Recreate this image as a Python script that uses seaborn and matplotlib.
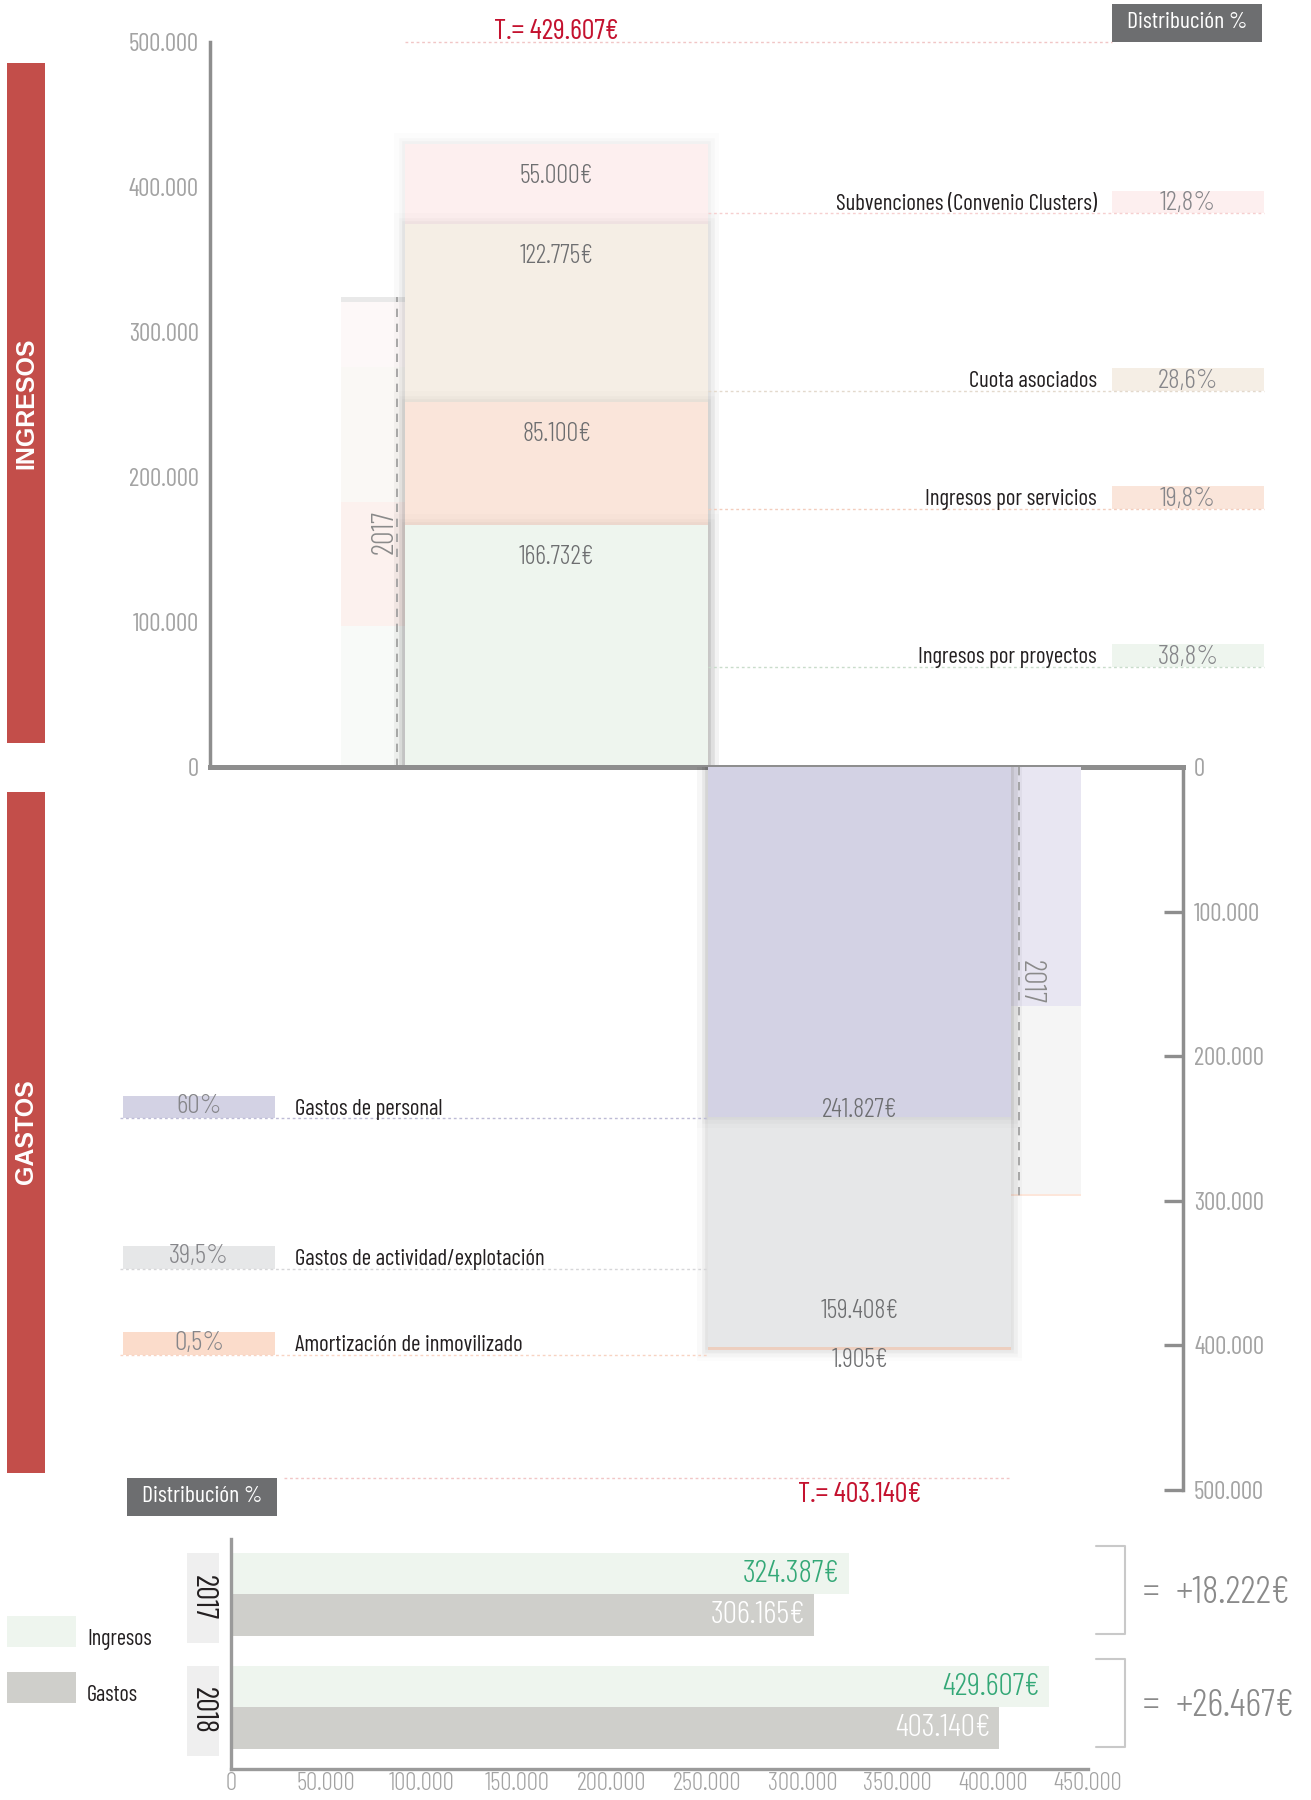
import numpy as np
import pandas as pd
import seaborn as sns
import matplotlib.pyplot as plt
import matplotlib.patheffects as pe
import matplotlib.transforms as mtransforms
from matplotlib.patches import Rectangle
from matplotlib.ticker import FuncFormatter

# ---- data ----
ing_labels = ['Ingresos por proyectos', 'Ingresos por servicios', 'Cuota asociados',
              'Subvenciones (Convenio Clusters)']
ing_2018 = [166732, 85100, 122775, 55000]
ing_2017 = [97000, 86000, 93000, 45000, 3387]
ing_pct = ['38,8%', '19,8%', '28,6%', '12,8%']

gas_labels = ['Gastos de personal', 'Gastos de actividad/explotación', 'Amortización de inmovilizado']
gas_2018 = [241827, 159408, 1905]
gas_2017 = [165600, 129800, 1500]
gas_pct = ['60%', '39,5%', '0,5%']

years = ['2017', '2018']
total_ingresos = [324387, 429607]
total_gastos = [306165, 403140]

# ---- styles / layout ----
ing_colors = ['#EEF5EE', '#FAE5DA', '#F5EEE5', '#FDEFEF']
ing_colors_17 = ['#F8FAF8', '#FCF1EE', '#FAF8F5', '#FDF8F8', '#E9E9E9']
ing_line_colors = ['#C9DCCB', '#F3CDBD', '#E3D9CC', '#F6CFCF']
gas_colors = ['#D3D2E4', '#E6E7E8', '#FBDCCB']
gas_colors_17 = ['#E8E6F2', '#F5F5F5', '#FDE6DA']
gas_line_colors = ['#BDBBD6', '#D6D6D8', '#F8D3C2']
ing_label_y = [69000, 178000, 259500, 382000]
gas_label_y = [243000, 347000, 406500]
gas_value_off = [5, 26, -7]

RED = '#C34E4A'
TOTAL_RED = '#C4122F'
GREY_TXT = '#6D6E70'
PCT_TXT = '#86868A'
AXIS = '#8E8E8E'
TICK_TXT = '#A3A3A3'
DARK = '#231F20'
LIGHT = 300

sns.set_style('white')
plt.rcParams['font.family'] = ['Barlow Condensed', 'DejaVu Sans']
BOLD = ['Liberation Sans', 'DejaVu Sans']

W, H = 1311, 1800
fig = plt.figure(figsize=(W / 100, H / 100), dpi=100)


def frac(x0, y0, x1, y1):
    return [x0 / W, 1 - y1 / H, (x1 - x0) / W, (y1 - y0) / H]


def fig_box(x0, y0, x1, y1, color):
    fig.add_artist(Rectangle((x0 / W, 1 - y1 / H), (x1 - x0) / W, (y1 - y0) / H,
                             transform=fig.transFigure, facecolor=color, edgecolor='none'))


def fig_text(x, y, s, **kw):
    fig.text(x / W, 1 - y / H, s, **kw)


def eur(v):
    return f'{v:,.0f}'.replace(',', '.') + '€'


fmt = FuncFormatter(lambda v, p: f'{v:,.0f}'.replace(',', '.'))

shadow = [pe.Stroke(linewidth=16, foreground='k', alpha=0.012),
          pe.Stroke(linewidth=9, foreground='k', alpha=0.018),
          pe.Stroke(linewidth=4, foreground='k', alpha=0.025),
          pe.Normal()]


def stack(ax, xc, width, values, colors, effects=None):
    # stacked column drawn as overlapping cumulative bars
    cum = np.cumsum(values)
    kw = {'path_effects': effects} if effects else {}
    for i in range(len(values) - 1, -1, -1):
        sns.barplot(x=[xc], y=[cum[i]], orient='x', native_scale=True, width=width,
                    color=colors[i], saturation=1, errorbar=None, linewidth=0, ax=ax, **kw)
    return cum


ax_top = fig.add_axes(frac(0, 42, W, 767))
ax_bot = fig.add_axes(frac(0, 767, W, 1490))

# ---- ingresos ----
cum17 = stack(ax_top, 492.5, 303, ing_2017, ing_colors_17)
ing_cum = stack(ax_top, 556.5, 303, ing_2018, ing_colors, shadow)
ax_top.vlines(397, 0, cum17[-1], colors='#9A9A9A', linestyles=(0, (5, 4)), lw=1.2)
ax_top.text(385, cum17[-1] * 0.5, '2017', rotation=90, ha='center', va='center',
            fontsize=22, color='#8A8A8A', fontweight=LIGHT)

for i, v in enumerate(ing_2018):
    ax_top.annotate(eur(v), xy=(556.5, ing_cum[i]), xytext=(0, -23), textcoords='offset points',
                    ha='center', va='center', fontsize=19, color=GREY_TXT, fontweight=LIGHT)

for i, y in enumerate(ing_label_y):
    ax_top.hlines(y, 708, 1264, colors=ing_line_colors[i], linestyles=(0, (2, 2)), lw=1)
    ax_top.add_patch(Rectangle((1112, y), 152, 15500, facecolor=ing_colors[i], edgecolor='none'))
    ax_top.text(1188, y + 7000, ing_pct[i], ha='center', va='center', fontsize=20,
                color=PCT_TXT, fontweight=LIGHT)
    ax_top.annotate(ing_labels[i], xy=(1097, y), xytext=(0, 2.5), textcoords='offset points',
                    ha='right', va='baseline', fontsize=16.5, color=DARK)

ax_top.hlines(500000, 405, 1112, colors='#F1C6C6', linestyles=(0, (2, 2)), lw=1, clip_on=False)
ax_top.annotate(f'T.= {eur(sum(ing_2018))}', xy=(556.5, 500000), xytext=(0, 2),
                textcoords='offset points', ha='center', va='baseline', fontsize=20.5,
                color=TOTAL_RED, annotation_clip=False)

# ---- gastos ----
gcum17 = stack(ax_bot, 929.5, 303, gas_2017, gas_colors_17)
gas_cum = stack(ax_bot, 859.5, 303, gas_2018, gas_colors, shadow)
ax_bot.vlines(1019, 0, gcum17[-1], colors='#9A9A9A', linestyles=(0, (5, 4)), lw=1.2)
ax_bot.text(1031, gcum17[-1] * 0.5, '2017', rotation=-90, ha='center', va='center',
            fontsize=22, color='#8A8A8A', fontweight=LIGHT)

for i, v in enumerate(gas_2018):
    ax_bot.annotate(eur(v), xy=(859.5, gas_cum[i]), xytext=(0, gas_value_off[i]),
                    textcoords='offset points', ha='center', va='center', fontsize=19,
                    color=GREY_TXT, fontweight=LIGHT)

for i, y in enumerate(gas_label_y):
    ax_bot.hlines(y, 120, 708, colors=gas_line_colors[i], linestyles=(0, (2, 2)), lw=1)
    ax_bot.add_patch(Rectangle((123, y - 15500), 152, 15500, facecolor=gas_colors[i], edgecolor='none'))
    ax_bot.text(199, y - 8500, gas_pct[i], ha='center', va='center', fontsize=20,
                color=PCT_TXT, fontweight=LIGHT)
    ax_bot.annotate(gas_labels[i], xy=(295, y), xytext=(0, 2.5), textcoords='offset points',
                    ha='left', va='baseline', fontsize=16.5, color=DARK)

ax_bot.hlines(491500, 284, 1011, colors='#F1C6C6', linestyles=(0, (2, 2)), lw=1, clip_on=False)
ax_bot.annotate(f'T.= {eur(sum(gas_2018))}', xy=(859.5, 491500), xytext=(0, -3),
                textcoords='offset points', ha='center', va='top', fontsize=20.5,
                color=TOTAL_RED, annotation_clip=False)

# ---- axes styling ----
for ax in (ax_top, ax_bot):
    ax.set_xlim(0, W)
    ax.patch.set_visible(False)
    ax.set_xticks([])
    ax.set_xlabel('')
    ax.set_ylabel('')
    ax.set_yticks(range(0, 500001, 100000))
    ax.yaxis.set_major_formatter(fmt)
    for s in ax.spines.values():
        s.set_visible(False)
        s.set_color(AXIS)
    ax.tick_params(axis='y', direction='in', length=14, width=2.4, color=AXIS,
                   labelcolor=TICK_TXT, labelsize=18, pad=8)
    for lab in ax.get_yticklabels():
        lab.set_fontweight(LIGHT)

ax_top.set_ylim(0, 500000)
ax_top.spines['left'].set_visible(True)
ax_top.spines['left'].set_position(('data', 210))
ax_top.spines['left'].set_bounds(0, 500000)
ax_top.spines['left'].set_linewidth(2.5)
ax_top.spines['bottom'].set_visible(True)
ax_top.spines['bottom'].set_bounds(210, 1183)
ax_top.spines['bottom'].set_linewidth(3.6)

ax_bot.set_ylim(500000, 0)
ax_bot.yaxis.tick_right()
ax_bot.spines['right'].set_visible(True)
ax_bot.spines['right'].set_position(('data', 1183))
ax_bot.spines['right'].set_bounds(0, 500000)
ax_bot.spines['right'].set_linewidth(2.5)

# ---- side bands and headers ----
fig_box(7, 63, 45, 743, RED)
fig_box(7, 792, 45, 1473, RED)
fig_text(26, 403, 'INGRESOS', rotation=90, ha='center', va='center', color='white',
         fontsize=18, fontweight='bold', family=BOLD)
fig_text(26, 1132, 'GASTOS', rotation=90, ha='center', va='center', color='white',
         fontsize=18, fontweight='bold', family=BOLD)

fig_box(1112, 4, 1262, 42, '#6D6E70')
fig_text(1187, 23, 'Distribución %', ha='center', va='center', color='white', fontsize=17)
fig_box(127, 1478, 277, 1516, '#6D6E70')
fig_text(202, 1497, 'Distribución %', ha='center', va='center', color='white', fontsize=17)

# ---- comparison bars ----
ax_bar = fig.add_axes(frac(231, 1539, 1088, 1769))
df = pd.DataFrame({'Año': years + years,
                   'Tipo': ['Ingresos'] * 2 + ['Gastos'] * 2,
                   'Valor': total_ingresos + total_gastos})
sns.barplot(data=df, x='Valor', y='Año', hue='Tipo', hue_order=['Ingresos', 'Gastos'],
            palette={'Ingresos': '#EEF5EE', 'Gastos': '#CFCFCB'}, orient='y', width=0.73,
            saturation=1, errorbar=None, legend=False, linewidth=0, ax=ax_bar)

trans = mtransforms.blended_transform_factory(ax_bar.transAxes, ax_bar.transData)
for i in range(len(years)):
    ax_bar.annotate(eur(total_ingresos[i]), xy=(total_ingresos[i], i - 0.1825), xytext=(-7, 0),
                    textcoords='offset points', ha='right', va='center', fontsize=23,
                    color='#34A877', fontweight=LIGHT)
    ax_bar.annotate(eur(total_gastos[i]), xy=(total_gastos[i], i + 0.1825), xytext=(-6, 0),
                    textcoords='offset points', ha='right', va='center', fontsize=23,
                    color='white', fontweight=LIGHT)
    yc = i - 0.04
    ax_bar.plot([454000, 469500, 469500, 454000], [yc - 0.39, yc - 0.39, yc + 0.39, yc + 0.39],
                color='#C9C9C9', lw=1.5, clip_on=False)
    diff = total_ingresos[i] - total_gastos[i]
    ax_bar.text(479000, i - 0.01, '=', ha='left', va='center', fontsize=27,
                color='#8A8A8A', fontweight=LIGHT)
    ax_bar.text(495800, i - 0.01, '+' + eur(diff), ha='left', va='center', fontsize=28,
                color='#8A8A8A', fontweight=LIGHT)
    ax_bar.add_patch(Rectangle((-0.0513, i + 0.03 - 0.4), 0.0373, 0.8, transform=trans,
                               facecolor='#EFEFEF', edgecolor='none', clip_on=False))
    ax_bar.text(-0.0327, i + 0.03, years[i], rotation=-90, transform=trans, ha='center',
                va='center', fontsize=22, color=DARK)

ax_bar.set_xlim(0, 450000)
ax_bar.set_ylim(1.546, -0.49)
ax_bar.patch.set_visible(False)
ax_bar.set_xlabel('')
ax_bar.set_ylabel('')
for s in ['top', 'right']:
    ax_bar.spines[s].set_visible(False)
for s in ['left', 'bottom']:
    ax_bar.spines[s].set_color('#9A9A9A')
    ax_bar.spines[s].set_linewidth(2.4)
ax_bar.set_xticks(range(0, 450001, 50000))
ax_bar.xaxis.set_major_formatter(fmt)
ax_bar.tick_params(axis='x', direction='in', length=13, width=2.4, color='#9A9A9A',
                   labelcolor=TICK_TXT, labelsize=18, pad=2)
for lab in ax_bar.get_xticklabels():
    lab.set_fontweight(LIGHT)
ax_bar.set_yticks([])
ax_bar.set_yticks([0.515], minor=True)
ax_bar.tick_params(axis='y', which='minor', direction='in', length=11, width=2.4,
                   color='#9A9A9A', labelleft=False)

# legend
fig_box(7, 1616, 76, 1647, '#EEF5EE')
fig_box(7, 1672, 76, 1703, '#CFCFCB')
fig_text(87, 1645, 'Ingresos', ha='left', va='baseline', fontsize=16, color=DARK)
fig_text(87, 1701, 'Gastos', ha='left', va='baseline', fontsize=16, color=DARK)

fig.savefig('out.png', dpi=100)
